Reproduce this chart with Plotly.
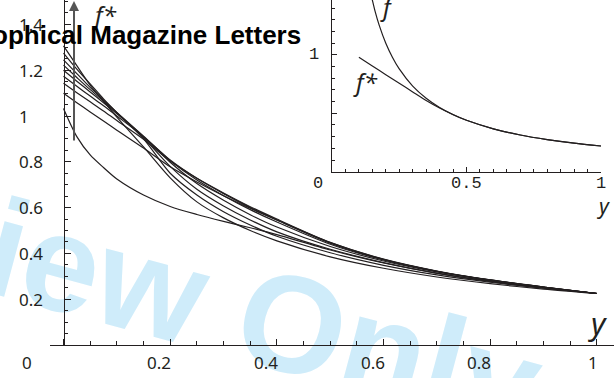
import plotly.graph_objects as go

# ---------------- data ----------------
x_grid = [0, 0.025, 0.05, 0.075, 0.1, 0.15, 0.2, 0.25, 0.3, 0.35, 0.4, 0.5, 0.6, 0.7, 0.8, 0.9, 1.0]

curve_a = [1.306, 1.22, 1.135, 1.065, 0.995, 0.865, 0.73, 0.625, 0.555, 0.5, 0.455, 0.385, 0.335, 0.297, 0.268, 0.244, 0.225]
curve_b = [1.275, 1.205, 1.14, 1.075, 1.015, 0.9, 0.75, 0.655, 0.582, 0.524, 0.475, 0.403, 0.348, 0.306, 0.274, 0.248, 0.225]
curve_c = [1.245, 1.185, 1.125, 1.07, 1.015, 0.905, 0.78, 0.68, 0.607, 0.546, 0.494, 0.418, 0.36, 0.314, 0.279, 0.25, 0.225]
curve_d = [1.222, 1.168, 1.115, 1.065, 1.015, 0.91, 0.798, 0.705, 0.632, 0.569, 0.515, 0.43, 0.367, 0.319, 0.282, 0.252, 0.225]
curve_e = [1.2, 1.152, 1.105, 1.058, 1.01, 0.912, 0.805, 0.72, 0.652, 0.591, 0.537, 0.44, 0.371, 0.321, 0.283, 0.253, 0.225]
curve_f = [1.174, 1.13, 1.087, 1.045, 1.0, 0.91, 0.808, 0.728, 0.661, 0.6, 0.546, 0.445, 0.373, 0.322, 0.284, 0.253, 0.225]
curve_g = [1.143, 1.102, 1.062, 1.022, 0.98, 0.898, 0.803, 0.728, 0.664, 0.604, 0.55, 0.448, 0.375, 0.323, 0.284, 0.253, 0.225]
curve_h = [1.099, 1.058, 1.018, 0.978, 0.938, 0.86, 0.778, 0.712, 0.652, 0.597, 0.546, 0.447, 0.374, 0.322, 0.283, 0.252, 0.225]
curve_i = [1.033, 0.91, 0.83, 0.775, 0.725, 0.655, 0.605, 0.57, 0.54, 0.512, 0.482, 0.415, 0.358, 0.313, 0.277, 0.249, 0.225]
main_curves = [curve_a, curve_b, curve_c, curve_d, curve_e, curve_f, curve_g, curve_h, curve_i]

# inset
fstar_x = [0.1, 0.15, 0.2, 0.25, 0.3, 0.35, 0.4, 0.45, 0.5, 0.6, 0.7, 0.8, 0.9, 1.0]
fstar_y = [0.98, 0.905, 0.83, 0.757, 0.683, 0.61, 0.545, 0.488, 0.44, 0.367, 0.314, 0.275, 0.244, 0.22]
f_x = [0.14, 0.15, 0.16, 0.175, 0.2, 0.225, 0.25, 0.3, 0.35, 0.4, 0.45, 0.5, 0.6, 0.7, 0.8, 0.9, 1.0]
f_y = [1.57, 1.47, 1.375, 1.257, 1.1, 0.978, 0.88, 0.733, 0.629, 0.55, 0.489, 0.44, 0.367, 0.314, 0.275, 0.244, 0.22]

# tick labels
main_xticks = [0.2, 0.4, 0.6, 0.8, 1]
main_xlabels = ["0.2", "0.4", "0.6", "0.8", "1"]
main_yticks = [0.2, 0.4, 0.6, 0.8, 1, 1.2, 1.4]
main_ylabels = ["0.2", "0.4", "0.6", "0.8", "1", "1.2", "1.4"]
inset_xticks = [0.5, 1]
inset_xlabels = ["0.5", "1"]
inset_yticks = [1]
inset_ylabels = ["1"]

# arrow (parameter increases upward)
arrow_x = 0.0197
arrow_y0 = 0.886
arrow_y1 = 1.502

# ---------------- figure ----------------
W, H = 614, 378
INK = "#231f20"
WM = "#cfecfa"
LABEL_FONT = "Noto Sans"


def px(v):
    return v / W


def py(v):
    return 1 - v / H


fig = go.Figure()

for ys in main_curves:
    fig.add_trace(go.Scatter(x=x_grid, y=ys, mode="lines",
                             line=dict(color=INK, width=1.2, shape="spline", smoothing=0.8),
                             xaxis="x", yaxis="y", hoverinfo="skip", showlegend=False))

fig.add_trace(go.Scatter(x=f_x, y=f_y, mode="lines",
                         line=dict(color=INK, width=1.2, shape="spline", smoothing=0.8),
                         xaxis="x2", yaxis="y2", hoverinfo="skip", showlegend=False))
fig.add_trace(go.Scatter(x=fstar_x, y=fstar_y, mode="lines",
                         line=dict(color=INK, width=1.2, shape="spline", smoothing=0.8),
                         xaxis="x2", yaxis="y2", hoverinfo="skip", showlegend=False))

axis_common = dict(showline=True, linecolor=INK, linewidth=1.2, ticks="inside",
                   tickcolor=INK, tickwidth=1, showticklabels=False,
                   showgrid=False, zeroline=False)

main_x0 = -0.0253
main_x1 = 1.0319
main_ytop = 345 / 229

fig.update_layout(
    width=W, height=H,
    margin=dict(l=0, r=0, t=0, b=0),
    paper_bgcolor="white", plot_bgcolor="rgba(0,0,0,0)",
    showlegend=False,
    xaxis=dict(domain=[px(50), 1], range=[main_x0, main_x1], anchor="y",
               tick0=0, dtick=0.2, ticklen=6,
               minor=dict(ticks="inside", tick0=0, dtick=0.05, ticklen=3.5,
                          tickcolor=INK, tickwidth=1, showgrid=False),
               **axis_common),
    yaxis=dict(domain=[py(345), 1], range=[0, main_ytop], anchor="free",
               position=px(63.5), side="left",
               tick0=0, dtick=0.2, ticklen=6,
               minor=dict(ticks="inside", tick0=0, dtick=0.05, ticklen=3.5,
                          tickcolor=INK, tickwidth=1, showgrid=False),
               **axis_common),
    xaxis2=dict(domain=[px(332), px(601)], range=[0, 1.0], anchor="y2",
                tick0=0, dtick=0.5, ticklen=5,
                minor=dict(ticks="inside", tick0=0, dtick=0.05, ticklen=3,
                           tickcolor=INK, tickwidth=1, showgrid=False),
                **axis_common),
    yaxis2=dict(domain=[py(171.7), 1], range=[0, 1.47], anchor="x2",
                tick0=0, dtick=0.5, ticklen=5,
                minor=dict(ticks="inside", tick0=0, dtick=0.1, ticklen=3,
                           tickcolor=INK, tickwidth=1, showgrid=False),
                **axis_common),
)

# watermark (below the plot)
fig.add_shape(type="rect", xref="paper", yref="paper",
              x0=px(144) - 0.01, x1=px(144) + 0.01, y0=py(271) - 0.01, y1=py(271) + 0.01,
              line=dict(width=0), fillcolor="rgba(0,0,0,0)", layer="below",
              label=dict(text="Review Only", textangle=15, textposition="middle center",
                         font=dict(size=138, color=WM, family="Liberation Sans", weight="bold")))

ann = []
tick_font = dict(family=LABEL_FONT, size=17, color=INK)
for v, t in zip(main_xticks, main_xlabels):
    ann.append(dict(x=v, y=0, xref="x", yref="y", text=t, showarrow=False,
                    xanchor="right", yanchor="middle", xshift=3, yshift=-17.5, font=tick_font))
ann.append(dict(x=px(27), y=0, xref="paper", yref="y", text="0", showarrow=False,
                xanchor="center", yanchor="middle", yshift=-17.5, font=tick_font))
for v, t in zip(main_yticks, main_ylabels):
    ann.append(dict(x=px(17), y=v, xref="paper", yref="y", text=t, showarrow=False,
                    xanchor="left", yanchor="middle", font=tick_font))

mono_font = dict(family="Liberation Mono", size=17, color=INK)
for v, t in zip(inset_xticks, inset_xlabels):
    ann.append(dict(x=v, y=0, xref="x2", yref="y2", text=t, showarrow=False,
                    xanchor="center", yanchor="middle", yshift=-11.5, font=mono_font))
ann.append(dict(x=px(318), y=0, xref="paper", yref="y2", text="0", showarrow=False,
                xanchor="center", yanchor="middle", yshift=-11.5, font=mono_font))
for v, t in zip(inset_yticks, inset_ylabels):
    ann.append(dict(x=px(321), y=v, xref="paper", yref="y2", text=t, showarrow=False,
                    xanchor="right", yanchor="middle", font=mono_font))

# axis / curve labels
ann.append(dict(x=px(597), y=py(323), xref="paper", yref="paper", text="<i>y</i>",
                showarrow=False, xanchor="center", yanchor="middle",
                font=dict(family=LABEL_FONT, size=31, color=INK)))
ann.append(dict(x=px(603), y=py(206), xref="paper", yref="paper", text="<i>y</i>",
                showarrow=False, xanchor="center", yanchor="middle",
                font=dict(family=LABEL_FONT, size=21, color=INK)))
ann.append(dict(x=px(387), y=py(7), xref="paper", yref="paper", text="<i>f</i>",
                showarrow=False, xanchor="center", yanchor="middle",
                font=dict(family=LABEL_FONT, size=24, color=INK)))
ann.append(dict(x=px(365), y=py(81), xref="paper", yref="paper", text="<i>f*</i>",
                showarrow=False, xanchor="center", yanchor="middle",
                font=dict(family=LABEL_FONT, size=24, color=INK)))
ann.append(dict(x=px(104), y=py(15), xref="paper", yref="paper", text="<i>f*</i>",
                showarrow=False, xanchor="center", yanchor="middle",
                font=dict(family=LABEL_FONT, size=24, color=INK)))

# arrow
ann.append(dict(x=arrow_x, y=arrow_y1, ax=arrow_x, ay=arrow_y0, xref="x", yref="y",
                axref="x", ayref="y", text="", showarrow=True, arrowhead=2,
                arrowsize=1, arrowwidth=2, arrowcolor="#555555"))

# title (partially off the left edge)
ann.append(dict(x=px(303), y=py(35), xref="paper", yref="paper",
                text="<b>Philosophical Magazine Letters</b>", showarrow=False,
                xanchor="right", yanchor="middle",
                font=dict(family="Liberation Sans", size=26, color="black")))

fig.update_layout(annotations=ann)

fig.write_html("out.html", config={"displayModeBar": False},
               post_script="document.body.style.margin='0';document.body.style.overflow='hidden';")
